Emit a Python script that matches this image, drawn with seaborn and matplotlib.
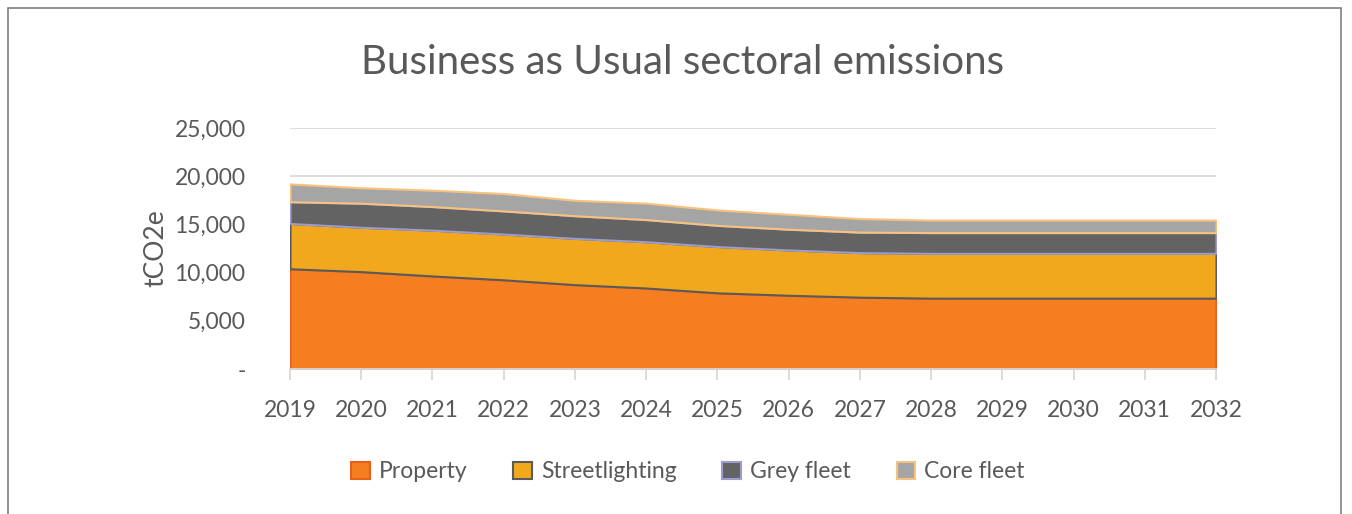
import seaborn as sns
import matplotlib.pyplot as plt
from matplotlib.patches import Patch, Rectangle
from matplotlib.ticker import FuncFormatter

# values (tCO2e)
years = list(range(2019, 2033))
property_ = [10400, 10100, 9650, 9250, 8750, 8400, 7900, 7650, 7450, 7350, 7350, 7350, 7350, 7350]
streetlighting = [4700, 4600, 4750, 4750, 4800, 4800, 4800, 4700, 4620, 4650, 4650, 4650, 4650, 4650]
grey_fleet = [2250, 2500, 2450, 2400, 2350, 2300, 2200, 2150, 2130, 2150, 2150, 2150, 2150, 2150]
core_fleet = [1850, 1600, 1700, 1800, 1600, 1700, 1600, 1550, 1400, 1300, 1300, 1300, 1300, 1300]

labels = ['Property', 'Streetlighting', 'Grey fleet', 'Core fleet']
fills = ['#F47E20', '#F2A81D', '#636363', '#A5A5A5']
edges = ['#E8601C', '#5A5A5A', '#9C9CD0', '#F7C27F']

sns.set_theme(style='white')
plt.rcParams['font.family'] = ['Lato', 'DejaVu Sans']
text_col = '#595959'

fig = plt.figure(figsize=(13.52, 5.14), dpi=100)
ax = fig.add_axes([290 / 1352, 1 - 369 / 514, 926 / 1352, 241 / 514])

polys = ax.stackplot(years, property_, streetlighting, grey_fleet, core_fleet,
                     colors=fills, linewidth=1.5)
for p, ec in zip(polys, edges):
    p.set_edgecolor(ec)

ax.set_xlim(2019, 2032)
ax.set_ylim(0, 25000)
ax.set_yticks(range(0, 25001, 5000))
ax.yaxis.set_major_formatter(FuncFormatter(lambda v, _: '-' if v == 0 else f'{int(v):,}'))
ax.set_xticks(years)
for y in range(5000, 25001, 5000):
    ax.axhline(y, color='#D9D9D9', lw=1.3, zorder=0)

for s in ['top', 'right', 'left']:
    ax.spines[s].set_visible(False)
ax.spines['bottom'].set_color('#D9D9D9')
ax.spines['bottom'].set_linewidth(1.3)
ax.tick_params(axis='x', bottom=True, length=8, color='#D9D9D9', width=1.3,
               labelsize=16.5, labelcolor=text_col, pad=14)
ax.tick_params(axis='y', left=False, labelsize=16.5, labelcolor=text_col, pad=26)

ax.set_ylabel('tCO2e', fontsize=19, color=text_col, labelpad=4)
fig.text(683 / 1352, 1 - 62 / 514, 'Business as Usual sectoral emissions',
         ha='center', va='center', fontsize=29, color=text_col)

handles = [Patch(facecolor=f, edgecolor=e, linewidth=1.5, label=l)
           for f, e, l in zip(fills, edges, labels)]
fig.legend(handles=handles, loc='center', bbox_to_anchor=(688 / 1352, 1 - 472 / 514),
           ncol=4, frameon=False, fontsize=16.5, labelcolor=text_col,
           handlelength=0.8, handleheight=0.8, handletextpad=0.4, columnspacing=2.0)

fig.add_artist(Rectangle((8 / 1352, -0.05), 1333 / 1352, 1.05 - 8 / 514,
                         transform=fig.transFigure, fill=False,
                         edgecolor='#7F7F7F', lw=1.2))

fig.savefig('out.png', dpi=100)
